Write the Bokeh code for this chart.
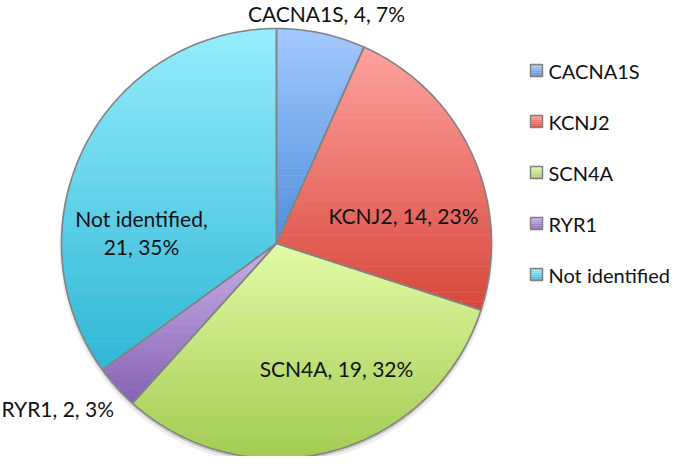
import numpy as np
from bokeh.plotting import figure
from bokeh.models import Range1d
from bokeh.core.properties import value
from bokeh.embed import file_html
from bokeh.resources import INLINE

# ---------------- data ----------------
categories = ["CACNA1S", "KCNJ2", "SCN4A", "RYR1", "Not identified"]
counts = [4, 14, 19, 2, 21]

# ---------------- styles / layout ----------------
top_colors = ["#a3c9ff", "#ffa29d", "#e3fba6", "#c9b1ea", "#95edfd"]
bottom_colors = ["#4f8fdc", "#d8463b", "#a2cb50", "#8661b2", "#2eb7d6"]
FONT = value("Lato")
FS = "21px"
LFS = "20px"
W, H = 669, 456  # figure size; data y = H - picture y

CX, CY, R = 276, H - 243, 215
# label anchor positions (picture coordinates) and alignment
label_pos = [(326, 13, "center"), (403, 215, "center"), (336, 368, "center"),
             (1, 408, "left"), (141, 232, "center")]
wrap_label = [False, False, False, False, True]
legend_x, legend_y0, legend_dy, sq = 530, 70, 51, 12


def hex2rgb(h):
    h = h.lstrip("#")
    return np.array([int(h[i:i + 2], 16) for i in (0, 2, 4)], dtype=float)


def mix(c1, c2, t):
    c = hex2rgb(c1) * (1 - t) + hex2rgb(c2) * t
    return "#%02x%02x%02x" % tuple(int(round(v)) for v in c)


def clip(poly, yc, keep_above):
    out = []
    n = len(poly)
    for i in range(n):
        p1, p2 = poly[i], poly[(i + 1) % n]
        in1 = p1[1] >= yc if keep_above else p1[1] <= yc
        in2 = p2[1] >= yc if keep_above else p2[1] <= yc
        if in1:
            out.append(p1)
        if in1 != in2:
            t = (yc - p1[1]) / (p2[1] - p1[1])
            out.append((p1[0] + t * (p2[0] - p1[0]), yc))
    return out


total = sum(counts)
fracs = [c / total for c in counts]
pcts = [int(round(100 * f)) for f in fracs]

p = figure(width=W, height=H, x_range=Range1d(0, W), y_range=Range1d(0, H),
           output_backend="svg", toolbar_location=None, min_border=0,
           x_axis_type=None, y_axis_type=None)
p.grid.visible = False
p.outline_line_color = None
p.background_fill_color = "white"

# shadow
p.circle(x=[CX], y=[CY - 4], radius=R + 2, fill_color="black", fill_alpha=0.07, line_color=None)
p.circle(x=[CX], y=[CY - 2.5], radius=R + 0.5, fill_color="black", fill_alpha=0.15, line_color=None)

band_xs, band_ys, band_cols = [], [], []
out_xs, out_ys = [], []
cum = 0.0
for i, f in enumerate(fracs):
    t0 = cum * 2 * np.pi
    t1 = (cum + f) * 2 * np.pi
    cum += f
    ts = np.linspace(t0, t1, max(8, int(f * 400)))
    ang = np.pi / 2 - ts
    poly = [(CX, CY)] + [(CX + R * np.cos(a), CY + R * np.sin(a)) for a in ang]
    out_xs.append([q[0] for q in poly])
    out_ys.append([q[1] for q in poly])
    ys = [q[1] for q in poly]
    ymin, ymax = min(ys), max(ys)
    nb = 60
    edges = np.linspace(ymax, ymin, nb + 1)
    for b in range(nb):
        ya, yb = edges[b], edges[b + 1]
        pp = clip(poly, yb - 0.4, True)
        if len(pp) < 3:
            continue
        pp = clip(pp, ya, False)
        if len(pp) < 3:
            continue
        t = (b + 0.5) / nb
        col = mix(top_colors[i], bottom_colors[i], t)
        band_xs.append([q[0] for q in pp])
        band_ys.append([q[1] for q in pp])
        band_cols.append(col)

p.patches(band_xs, band_ys, fill_color=band_cols, line_color=None)
p.patches(out_xs, out_ys, fill_color=None, line_color="#838383", line_width=1.6)

# data labels
labels = []
for c, n, pc, w in zip(categories, counts, pcts, wrap_label):
    s = f"{c}, {n}, {pc}%"
    if w:
        s = f"{c},\n{n}, {pc}%"
    labels.append(s)

for (lx, ly, al), s in zip(label_pos, labels):
    p.text(x=[lx], y=[H - ly], text=[s], text_font=FONT, text_font_size=FS,
           text_align=al, text_baseline="middle", text_color="#111111",
           text_line_height=1.1)

# legend
for i, c in enumerate(categories):
    yc = H - (legend_y0 + i * legend_dy)
    nb = 6
    for b in range(nb):
        y_top = yc + sq / 2 - b * sq / nb
        p.quad(left=[legend_x], right=[legend_x + sq], top=[y_top], bottom=[y_top - sq / nb],
               fill_color=mix(top_colors[i], bottom_colors[i], (b + 0.5) / nb), line_color=None)
    p.quad(left=[legend_x], right=[legend_x + sq], top=[yc + sq / 2], bottom=[yc - sq / 2],
           fill_color=None, line_color="#808080", line_width=1.5)
    p.text(x=[legend_x + sq + 6], y=[yc], text=[c], text_font=FONT, text_font_size=LFS,
           text_align="left", text_baseline="middle", text_color="#111111")

open("out.html", "w").write(file_html(p, INLINE))
